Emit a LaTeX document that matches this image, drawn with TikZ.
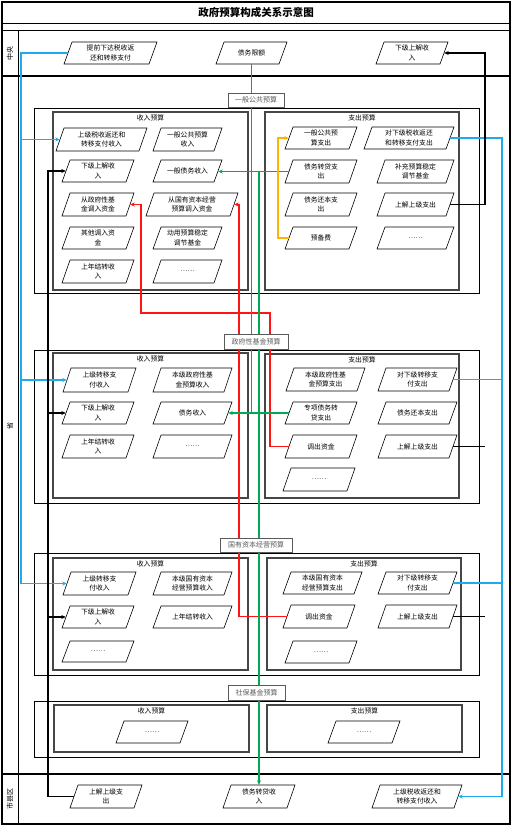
\documentclass[tikz,border=0pt]{standalone}
\usepackage{fontspec}
\setmainfont{Noto Sans CJK SC}
\usetikzlibrary{arrows.meta}
\definecolor{cblue}{RGB}{30,170,235}
\definecolor{cgreen}{RGB}{0,170,80}
\definecolor{cred}{RGB}{255,20,20}
\definecolor{corange}{RGB}{255,180,0}
\definecolor{boxgray}{RGB}{70,70,70}
\definecolor{labgray}{RGB}{90,90,90}
\def\pgsl{8}
\tikzset{
  pgshape/.style={draw=black, line width=0.6pt, fill=white, line join=miter},
  pgtext/.style={inner sep=0pt, align=center, font=\fontsize{6.8}{9.5}\selectfont},
  secbox/.style={draw=black, line width=0.8pt},
  innerbox/.style={draw=boxgray, line width=1.1pt},
  seclabel/.style={draw=labgray, line width=0.8pt, fill=white, text=labgray, inner sep=0pt, font=\fontsize{7}{8}\selectfont},
  boxtitle/.style={inner sep=0pt, font=\fontsize{6.8}{8}\selectfont},
  lanelabel/.style={inner sep=0pt, font=\fontsize{7}{8}\selectfont, rotate=90},
  conn/.style={line width=1.3pt},
  tip/.style={-{Stealth[length=4.5pt,width=4pt]}},
  bl/.style={conn, draw=cblue},
  gr/.style={conn, draw=cgreen},
  rd/.style={conn, draw=cred},
  og/.style={conn, draw=corange},
  bk/.style={line width=1.1pt, draw=black}
}
\newcommand{\pgn}[6]{%
  \draw[pgshape] (#2,#5) -- ({#2+\pgsl},#4) -- (#3,#4) -- ({#3-\pgsl},#5) -- cycle;
  \node[pgtext, minimum width={#3-#2-\pgsl}, minimum height={#5-#4}] (#1) at ({(#2+#3)/2},{(#4+#5)/2}) {#6};
}
\begin{document}
\begin{tikzpicture}[x=1pt,y=-1pt]
\useasboundingbox (0,0) rectangle (513,827);
\fill[white] (0,0) rectangle (513,827);

% ---- frame and lanes
\draw[line width=1.2pt] (2,2) rectangle (510,824);
\draw[line width=0.8pt] (2,23) -- (510,23);
\draw[line width=1.2pt] (2,30.5) -- (510,30.5);
\draw[line width=1pt] (18,30.5) -- (18,824);
\draw[line width=1.2pt] (2,76) -- (510,76);
\draw[line width=1.2pt] (2,774) -- (510,774);
\node[font=\bfseries\fontsize{10.5}{12}\selectfont, inner sep=0pt] (title) at (256,12.5) {政府预算构成关系示意图};
\node[lanelabel] (lane1) at (10,53) {中央};
\node[lanelabel] (lane2) at (10,426) {省};
\node[lanelabel] (lane3) at (10,799) {市县区};

% ---- section frames
\draw[secbox] (34,108) rectangle (479,293);
\draw[innerbox] (53,112) rectangle (248,290);
\draw[innerbox] (265,112) rectangle (459,290);
\draw[secbox] (34,350) rectangle (479,503);
\draw[innerbox] (53,353) rectangle (248,498);
\draw[innerbox] (265,354) rectangle (459,498);
\draw[secbox] (34,553) rectangle (479,675);
\draw[innerbox] (53,558) rectangle (248,670);
\draw[innerbox] (267,558) rectangle (461,670);
\draw[secbox] (34,701) rectangle (479,757);
\draw[innerbox] (54,705) rectangle (249,752);
\draw[innerbox] (267,705) rectangle (462,752);

\node[boxtitle] (t1a) at (150.5,118) {收入预算};
\node[boxtitle] (t1b) at (362,118) {支出预算};
\node[boxtitle] (t2a) at (150.5,359) {收入预算};
\node[boxtitle] (t2b) at (362,360) {支出预算};
\node[boxtitle] (t3a) at (150.5,564) {收入预算};
\node[boxtitle] (t3b) at (364,564) {支出预算};
\node[boxtitle] (t4a) at (151.5,711) {收入预算};
\node[boxtitle] (t4b) at (364.5,711) {支出预算};

% ---- named helper coordinates for connector lanes
\coordinate (xBL) at (21,0);
\coordinate (xBR) at (502,0);
\coordinate (xKL) at (48,0);
\coordinate (xKR) at (485,0);
\coordinate (xRa) at (141,0);
\coordinate (xRb) at (270,0);
\coordinate (yR) at (0,313);
\coordinate (xR2) at (239,0);
\coordinate (xO) at (278,0);

% ---- nodes (parallelograms)
\pgn{tq}{64}{157}{42}{64}{提前下达税收返\\还和转移支付}
\pgn{xe}{216}{287}{42}{64}{债务限额}
\pgn{xsj}{376}{448}{42}{64}{下级上解收\\入}

\pgn{a1}{56}{147}{128}{151}{上级税收返还和\\转移支付收入}
\pgn{a2}{153}{222}{128}{151}{一般公共预算\\收入}
\pgn{a3}{62}{134}{160}{182}{下级上解收\\入}
\pgn{a4}{153}{222}{160}{182}{一般债务收入}
\pgn{a5}{62}{134}{193}{216}{从政府性基\\金调入资金}
\pgn{a6}{146}{238}{193}{216}{从国有资本经营\\预算调入资金}
\pgn{a7}{62}{134}{227}{249}{其他调入资\\金}
\pgn{a8}{153}{222}{227}{249}{动用预算稳定\\调节基金}
\pgn{a9}{62}{134}{260}{283}{上年结转收\\入}
\pgn{a10}{153}{222}{260}{283}{……}

\pgn{b1}{285}{357}{127}{149}{一般公共预\\算支出}
\pgn{b2}{364}{454}{127}{149}{对下级税收返还\\和转移支付支出}
\pgn{b3}{285}{357}{160}{183}{债务转贷支\\出}
\pgn{b4}{377}{454}{160}{183}{补充预算稳定\\调节基金}
\pgn{b5}{285}{357}{193}{216}{债务还本支\\出}
\pgn{b6}{377}{454}{193}{216}{上解上级支出}
\pgn{b7}{285}{357}{227}{249}{预备费}
\pgn{b8}{377}{454}{227}{249}{……}

\pgn{c1}{63}{136}{368}{392}{上级转移支\\付收入}
\pgn{c2}{153}{232}{368}{392}{本级政府性基\\金预算收入}
\pgn{c3}{62}{134}{402}{424}{下级上解收\\入}
\pgn{c4}{153}{232}{402}{424}{债务收入}
\pgn{c5}{62}{134}{435}{458}{上年结转收\\入}
\pgn{c6}{153}{232}{435}{458}{……}

\pgn{d1}{286}{365}{368}{391}{本级政府性基\\金预算支出}
\pgn{d2}{378}{457}{368}{391}{对下级转移支\\付支出}
\pgn{d3}{285}{357}{402}{424}{专项债务转\\贷支出}
\pgn{d4}{378}{457}{402}{424}{债务还本支出}
\pgn{d5}{285}{357}{435}{458}{调出资金}
\pgn{d6}{378}{457}{435}{458}{上解上级支出}
\pgn{d7}{283}{355}{468}{491}{……}

\pgn{e1}{63}{136}{572}{595}{上级转移支\\付收入}
\pgn{e2}{153}{232}{572}{595}{本级国有资本\\经营预算收入}
\pgn{e3}{62}{134}{606}{628}{下级上解收\\入}
\pgn{e4}{153}{232}{606}{628}{上年结转收入}
\pgn{e5}{62}{134}{641}{662}{……}

\pgn{f1}{283}{362}{572}{594}{本级国有资本\\经营预算支出}
\pgn{f2}{378}{457}{572}{594}{对下级转移支\\付支出}
\pgn{f3}{283}{355}{605}{628}{调出资金}
\pgn{f4}{378}{457}{605}{628}{上解上级支出}
\pgn{f5}{285}{357}{641}{663}{……}

\pgn{g1}{116}{188}{721}{743}{……}
\pgn{g2}{328}{400}{721}{743}{……}

\pgn{h1}{70}{142}{785}{808}{上解上级支\\出}
\pgn{h2}{223}{295}{785}{808}{债务转贷收\\入}
\pgn{h3}{372}{462}{785}{808}{上级税收返还和\\转移支付收入}

% ---- connectors
% blue left
\draw[bl,tip] (tq.west) -- (tq.west -| xBL) -- (e1.west -| xBL) -- (e1.west);
\draw[bl,tip] (a1.west -| xBL) -- (a1.west);
\draw[bl,tip] (c1.west -| xBL) -- (c1.west);
% blue right
\draw[bl,tip] (b2.east) -- (b2.east -| xBR) -- (h3.east -| xBR) -- (h3.east);
\draw[bl] (d2.east) -- (d2.east -| xBR);
\draw[bl] (f2.east) -- (f2.east -| xBR);
% black left
\draw[bk,tip] (h1.west) -- (h1.west -| xKL) -- (a3.west -| xKL) -- (a3.west);
\draw[bk,tip] (c3.west -| xKL) -- (c3.west);
\draw[bk,tip] (e3.west -| xKL) -- (e3.west);
% black right
\draw[bk,tip] (b6.east) -- (b6.east -| xKR) -- (xsj.east -| xKR) -- (xsj.east);
\draw[bk] (d6.east) -- (d6.east -| xKR);
\draw[bk] (f4.east) -- (f4.east -| xKR);
% red
\draw[rd,tip] (d5.west) -- (d5.west -| xRb) -- (xRb |- yR) -- (xRa |- yR) -- (a5.east -| xRa) -- (a5.east);
\draw[rd,tip] (f3.west) -- (f3.west -| xR2) -- (a6.east -| xR2) -- (a6.east);
% green
\draw[gr,tip] (xe.south) -- (xe.south |- c4.east) -- (c4.east);
\draw[gr,tip] (b3.west) -- (a4.east |- b3.west);
\draw[gr,tip] (b3.west -| h2.north) -- (h2.north);
\draw[gr] (d3.west) -- (d3.west -| xe.south);
% orange
\draw[og,tip] (b7.west) -- (b7.west -| xO) -- (b1.west -| xO) -- (b1.west);

% ---- section labels (on top)
\node[seclabel, minimum width=56, minimum height=14] (s1) at (256,100) {一般公共预算};
\node[seclabel, minimum width=64, minimum height=15] (s2) at (256,342) {政府性基金预算};
\node[seclabel, minimum width=72, minimum height=14] (s3) at (256,545) {国有资本经营预算};
\node[seclabel, minimum width=57, minimum height=15] (s4) at (256.5,693) {社保基金预算};
\end{tikzpicture}
\end{document}
